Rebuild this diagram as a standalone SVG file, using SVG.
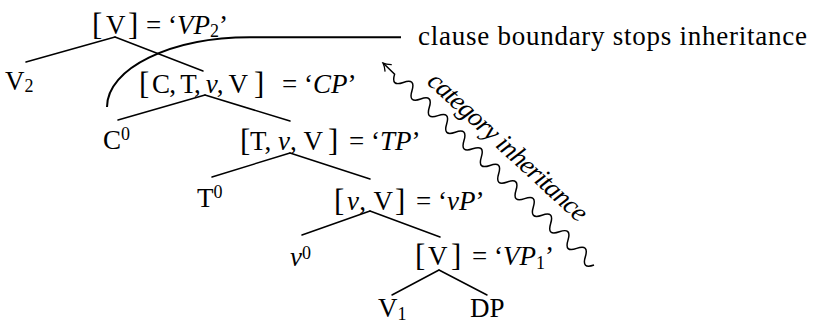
<svg xmlns="http://www.w3.org/2000/svg" width="816" height="323" viewBox="0 0 816 323">
<style>
text{font-family:"Liberation Serif","Times New Roman",serif;font-size:27px;fill:#000}
.br{font-size:31px}
.it{font-style:italic}
.s{font-size:18px}
.tl{stroke:#000;stroke-width:1.5;fill:none;stroke-linecap:round}
</style>
<defs>
<marker id="ah" markerUnits="userSpaceOnUse" viewBox="-10 -6 12 12" markerWidth="12" markerHeight="12" refX="0" refY="0" orient="auto">
<path d="M-7,-4.5 Q-3,-1 0,0 Q-3,1 -7,4.5" fill="none" stroke="#000" stroke-width="1.3" stroke-linecap="round"/>
</marker>
</defs>
<rect width="816" height="323" fill="#fff"/>
<g id="connectors">
<line class="tl" x1="115" y1="37" x2="26" y2="62"/>
<line class="tl" x1="115" y1="37" x2="203" y2="71"/>
<line class="tl" x1="205" y1="95" x2="118" y2="120"/>
<line class="tl" x1="205" y1="95" x2="290" y2="121"/>
<line class="tl" x1="290" y1="153" x2="212" y2="177"/>
<line class="tl" x1="290" y1="153" x2="370" y2="179"/>
<line class="tl" x1="370" y1="211" x2="302" y2="235"/>
<line class="tl" x1="370" y1="211" x2="440" y2="237"/>
<line class="tl" x1="439" y1="270" x2="392" y2="295"/>
<line class="tl" x1="439" y1="270" x2="487" y2="295"/>
<path id="clause-boundary" d="M107,107 C107,68.4 171,37.3 250,37.3 L401,37.3" fill="none" stroke="#000" stroke-width="2"/>
<path id="inheritance-arrow" transform="translate(594,265) rotate(-136.25)" fill="none" stroke="#000" stroke-width="1.5" marker-end="url(#ah)" d="M0,0 c4,-8 8,-8 12,0 s8,8 12,0 s8,-8 12,0 s8,8 12,0 s8,-8 12,0 s8,8 12,0 s8,-8 12,0 s8,8 12,0 s8,-8 12,0 s8,8 12,0 s8,-8 12,0 s8,8 12,0 s8,-8 12,0 s8,8 12,0 s8,-8 12,0 s8,8 12,0 s8,-8 12,0 s8,8 12,0 s8,-8 12,0 s8,8 12,0 s8,-8 12,0 s8,8 12,0 s8,-8 12,0 l16,0"/>
</g>
<g id="label-clause"><text x="418" y="45" font-size="28" textLength="389">clause boundary stops inheritance</text></g>
<g id="label-category"><text class="it" transform="translate(426,83) rotate(42.6)" font-size="25" textLength="207">category inheritance</text></g>
<g id="node-VP2">
<text class="br" x="92" y="35">[</text><text x="106" y="34">V</text><text class="br" x="128" y="35">]</text>
<text x="146" y="34">= ‘<tspan class="it">VP</tspan><tspan class="s" dy="3">2</tspan><tspan dy="-3">’</tspan></text>
</g>
<g id="node-V2"><text x="5" y="90">V<tspan class="s" dy="2">2</tspan></text></g>
<g id="node-CP">
<text class="br" x="139" y="94">[</text>
<text x="152" y="93" textLength="96">C, T, <tspan class="it">ν</tspan>, V</text>
<text class="br" x="254" y="94">]</text>
<text x="282" y="93">= ‘<tspan class="it">CP</tspan>’</text>
</g>
<g id="node-C0"><text x="103" y="149">C<tspan class="s" dy="-9">0</tspan></text></g>
<g id="node-TP">
<text class="br" x="240" y="151">[</text>
<text x="250" y="150" textLength="73">T, <tspan class="it">ν</tspan>, V</text>
<text class="br" x="328" y="151">]</text>
<text x="349" y="150">= ‘<tspan class="it">TP</tspan>’</text>
</g>
<g id="node-T0"><text x="197" y="207">T<tspan class="s" dy="-9">0</tspan></text></g>
<g id="node-vP">
<text class="br" x="334" y="211">[</text>
<text x="347" y="210" textLength="46"><tspan class="it">ν</tspan>, V</text>
<text class="br" x="395" y="211">]</text>
<text x="416" y="210">= ‘<tspan class="it">νP</tspan>’</text>
</g>
<g id="node-v0"><text x="290" y="266"><tspan class="it">ν</tspan><tspan class="s" dy="-7">0</tspan></text></g>
<g id="node-VP1">
<text class="br" x="415" y="266">[</text><text x="428" y="265">V</text><text class="br" x="451" y="266">]</text>
<text x="472" y="265">= ‘<tspan class="it">VP</tspan><tspan class="s" dy="4">1</tspan><tspan dy="-4">’</tspan></text>
</g>
<g id="node-V1"><text x="378" y="317">V<tspan class="s" dy="3">1</tspan></text></g>
<g id="node-DP"><text x="470" y="317">DP</text></g>
</svg>
